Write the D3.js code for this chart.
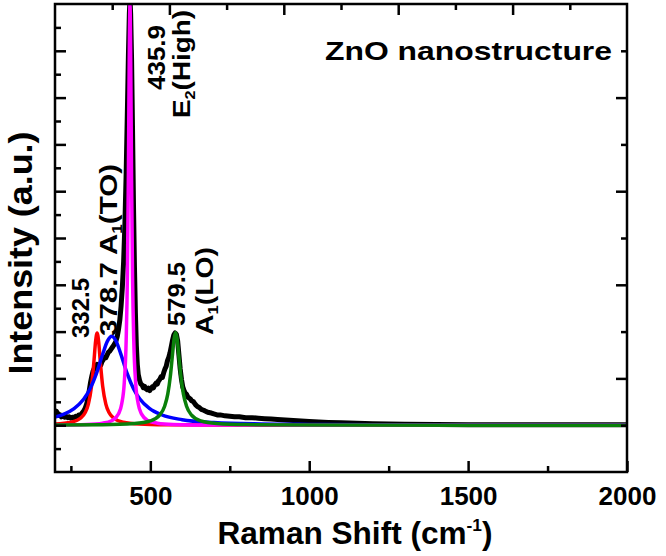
<!DOCTYPE html>
<html><head><meta charset="utf-8">
<script src="https://cdn.jsdelivr.net/npm/d3@7"></script>
<style>
html,body{margin:0;padding:0;background:#fff;}
svg{display:block;}
text{font-family:"Liberation Sans",Arial,sans-serif;font-weight:bold;fill:#000;}
</style></head>
<body>
<svg id="chart" width="666" height="556"></svg>
<script>
// ---- data ----
const blackX = [200,204,208,212,216,220,225,230,235,240,245,250,255,260,265,270,275,280,285,290,295,300,304,308,312,316,320,324,328,332,336,340,344,348,352,356,360,364,368,372,376,380,384,388,392,396,400,404,408,412,416,420,424,428,431,434,436,438,441,444,447,450,453,456,459,462,466,470,474,478,482,486,490,494,498,502,506,510,514,518,522,526,530,534,538,542,546,550,554,558,562,566,570,574,578,582,586,590,594,598,602,606,610,614,618,622,626,630,636,642,648,654,660,668,676,684,692,700,710,720,735,750,765,780,800,820,840,860,880,900,925,950,975,1000,1030,1060,1100,1150,1200,1300,1400,1500,1700,2000];
const blackY = [0.24,0.30,0.26,0.21,0.22,0.18,0.20,0.17,0.19,0.16,0.18,0.15,0.17,0.16,0.19,0.18,0.22,0.21,0.26,0.30,0.36,0.46,0.58,0.75,0.92,1.05,1.16,1.22,1.27,1.30,1.26,1.30,1.28,1.36,1.40,1.45,1.44,1.50,1.56,1.58,1.62,1.66,1.70,1.74,1.80,1.90,2.05,2.25,2.55,2.95,3.5,4.3,5.4,6.8,7.9,8.8,9.1,8.8,7.8,6.3,4.7,3.4,2.4,1.7,1.3,1.08,0.96,0.88,0.86,0.80,0.83,0.78,0.76,0.79,0.74,0.78,0.82,0.80,0.86,0.90,0.88,0.95,0.98,1.04,1.02,1.12,1.20,1.26,1.38,1.45,1.55,1.68,1.82,1.93,1.97,1.94,1.80,1.50,1.20,0.98,0.82,0.74,0.68,0.66,0.60,0.58,0.56,0.52,0.50,0.44,0.40,0.38,0.34,0.32,0.29,0.27,0.26,0.24,0.22,0.22,0.20,0.19,0.18,0.18,0.16,0.16,0.15,0.14,0.13,0.12,0.11,0.10,0.09,0.08,0.07,0.06,0.05,0.04,0.03,0.02,0.015,0.01,0.01,0.01];

const redX = [200,250,280,295,305,315,322,328,332.5,337,343,350,360,370,385,415,465,550,700,1000,2000];
const redY = [0.025,0.063,0.149,0.272,0.452,0.835,1.322,1.807,1.97,1.807,1.322,0.835,0.452,0.272,0.149,0.063,0.025,0.009,0.003,0.001,0];

const blueX = [200,230,260,290,310,330,350,365,378.7,392,407,427,447,467,497,537,600,700,850,1000,1200,1500,2000];
const blueY = [0.175,0.244,0.356,0.555,0.775,1.098,1.516,1.796,1.9,1.80,1.524,1.106,0.78,0.559,0.358,0.218,0.118,0.058,0.027,0.016,0.009,0.005,0.002];

const magentaX = [200,300,350,380,400,410,418,424,428,431,433.5,435.9,438.3,441,444,448,454,462,472,492,522,572,700,1000,2000];
const magentaY = [0.005,0.0175,0.0437,0.1025,0.245,0.459,0.909,1.825,3.29,5.40,7.76,9.0,7.76,5.22,3.19,1.775,0.891,0.452,0.242,0.102,0.0435,0.0175,0.0046,0.001,0];

const greenX = [200,350,450,500,530,545,555,563,570,575,579.5,584,589,596,604,614,629,659,709,800,1000,1500,2000];
const greenY = [0.005,0.01,0.0355,0.0916,0.22,0.405,0.669,1.048,1.529,1.857,1.98,1.857,1.529,1.048,0.669,0.405,0.22,0.0916,0.0355,0.0124,0.0034,0.001,0];

const xMajorTicks = [500,1000,1500,2000];
const xMinorTicks = [250,750,1250,1750];
const topMajorTicks = [1,2,3,4];
const topMinorTicks = [0.5,1.5,2.5,3.5,4.5];
const yMajorTicks = [0,1,2,3,4,5,6,7,8];
const yMinorTicks = [-0.5,0.5,1.5,2.5,3.5,4.5,5.5,6.5,7.5,8.5];
const rightMajorTicks = [1,3,5,7];
const rightMinorTicks = [0,2,4,6,8];

const titleText = "ZnO nanostructure";
const xLabel = "Raman Shift (cm";
const yLabel = "Intensity (a.u.)";

// ---- layout ----
const L = 55, R = 627, T = 4, B = 472;
const svg = d3.select("#chart");
const x = d3.scaleLinear().domain([200,2000]).range([L,R]);
const xTop = d3.scaleLinear().domain([0,5]).range([L,R]);
const y = d3.scaleLinear().domain([-1,9]).range([B,T]);

svg.append("defs").append("clipPath").attr("id","clip")
  .append("rect").attr("x",L).attr("y",T).attr("width",R-L).attr("height",B-T);

const plot = svg.append("g").attr("clip-path","url(#clip)");
function series(xs, ys, color, w, curve){
  const pts = xs.map((d,i)=>[d, ys[i]]);
  plot.append("path").datum(pts)
    .attr("fill","none").attr("stroke",color).attr("stroke-width",w)
    .attr("stroke-linejoin","round").attr("stroke-linecap","round")
    .attr("d", d3.line().x(d=>x(d[0])).y(d=>y(d[1])).curve(curve));
}
series(blackX, blackY, "#000", 5, d3.curveLinear);
series(redX, redY, "#ff0000", 3.5, d3.curveMonotoneX);
series(blueX, blueY, "#0000ff", 3.5, d3.curveMonotoneX);
series(magentaX, magentaY, "#ff00ff", 3.5, d3.curveMonotoneX);
series(greenX, greenY, "#0a800a", 3.5, d3.curveMonotoneX);

// ---- axes ----
function styleAxis(g){
  g.select(".domain").remove();
  g.selectAll(".tick line").attr("stroke","#000").attr("stroke-width",2.5);
}
svg.append("g").attr("transform",`translate(0,${B})`)
  .call(d3.axisBottom(x).tickValues(xMajorTicks).tickSize(-11).tickPadding(15).tickFormat(d3.format("d")))
  .call(styleAxis)
  .call(g=>g.selectAll("text").attr("font-size",26).attr("font-family","Liberation Sans, Arial, sans-serif").attr("font-weight","bold"));
svg.append("g").attr("transform",`translate(0,${B})`)
  .call(d3.axisBottom(x).tickValues(xMinorTicks).tickSize(-6).tickFormat(""))
  .call(styleAxis);
svg.append("g").attr("transform",`translate(0,${T})`)
  .call(d3.axisTop(xTop).tickValues(topMajorTicks).tickSize(-11).tickFormat(""))
  .call(styleAxis);
svg.append("g").attr("transform",`translate(0,${T})`)
  .call(d3.axisTop(xTop).tickValues(topMinorTicks).tickSize(-6).tickFormat(""))
  .call(styleAxis);
svg.append("g").attr("transform",`translate(${L},0)`)
  .call(d3.axisLeft(y).tickValues(yMajorTicks).tickSize(-11).tickFormat(""))
  .call(styleAxis);
svg.append("g").attr("transform",`translate(${L},0)`)
  .call(d3.axisLeft(y).tickValues(yMinorTicks).tickSize(-6).tickFormat(""))
  .call(styleAxis);
svg.append("g").attr("transform",`translate(${R},0)`)
  .call(d3.axisRight(y).tickValues(rightMajorTicks).tickSize(-11).tickFormat(""))
  .call(styleAxis);
svg.append("g").attr("transform",`translate(${R},0)`)
  .call(d3.axisRight(y).tickValues(rightMinorTicks).tickSize(-6).tickFormat(""))
  .call(styleAxis);

svg.append("rect").attr("x",L).attr("y",T).attr("width",R-L).attr("height",B-T)
  .attr("fill","none").attr("stroke","#000").attr("stroke-width",2.5);

// ---- text ----
svg.append("text").attr("x",325).attr("y",60).attr("font-size",25)
  .attr("textLength",287).attr("lengthAdjust","spacingAndGlyphs").text(titleText);

const xl = svg.append("text").attr("x",355).attr("y",544).attr("font-size",31)
  .attr("text-anchor","middle").attr("textLength",275).attr("lengthAdjust","spacingAndGlyphs");
xl.append("tspan").text(xLabel);
xl.append("tspan").attr("font-size",17).attr("dy",-13).text("-1");
xl.append("tspan").attr("dy",13).text(")");

svg.append("text").attr("transform","translate(32,253) rotate(-90)")
  .attr("font-size",33).attr("text-anchor","middle")
  .attr("textLength",243).attr("lengthAdjust","spacingAndGlyphs").text(yLabel);

// peak annotations: [x, y, length, main, sub, rest]
const annotations = [
  [89, 338, 60, "332.5", "", ""],
  [117, 336, 172, "378.7 A", "1", "(TO)"],
  [165, 90, 65, "435.9", "", ""],
  [190, 118, 108, "E", "2", "(High)"],
  [185, 326, 64, "579.5", "", ""],
  [213, 335, 88, "A", "1", "(LO)"]
];
annotations.forEach(a=>{
  const t = svg.append("text").attr("transform",`translate(${a[0]},${a[1]}) rotate(-90)`)
    .attr("font-size",24).attr("textLength",a[2]).attr("lengthAdjust","spacingAndGlyphs");
  t.append("tspan").text(a[3]);
  if(a[4]){
    t.append("tspan").attr("font-size",14).attr("dy",5).text(a[4]);
    t.append("tspan").attr("dy",-5).text(a[5]);
  }
});
</script>
</body></html>
